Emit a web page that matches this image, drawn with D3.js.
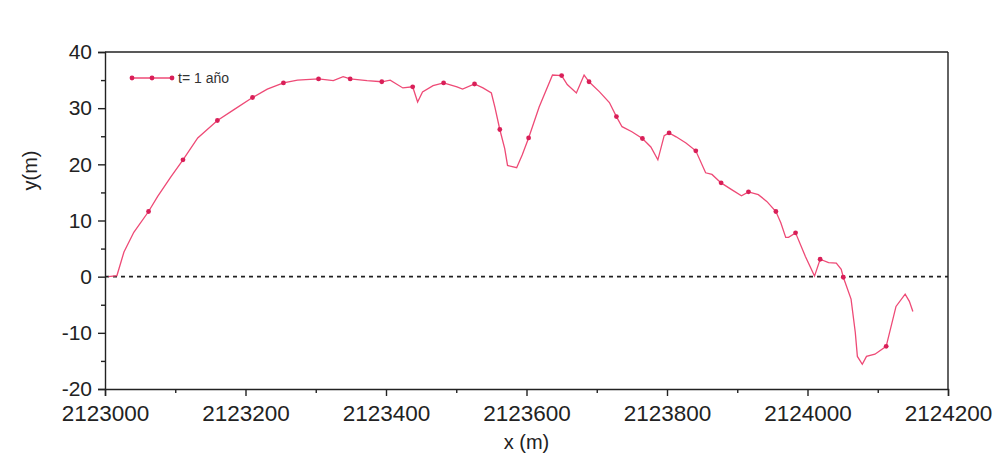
<!DOCTYPE html>
<html>
<head>
<meta charset="utf-8">
<script src="https://cdn.jsdelivr.net/npm/d3@7"></script>
<style>
  body { margin: 0; background: #fff; }
  text { font-family: "Liberation Sans", Arial, sans-serif; }
</style>
</head>
<body>
<div id="chart"></div>
<script>
// profile values
var xs = [2123005, 2123017, 2123027, 2123041, 2123062, 2123075, 2123094, 2123111, 2123132, 2123160,
          2123183, 2123210, 2123231, 2123254, 2123274, 2123304, 2123325, 2123339, 2123349, 2123373,
          2123394, 2123406, 2123424, 2123438, 2123445, 2123452, 2123467, 2123482, 2123501, 2123509,
          2123526, 2123538, 2123550, 2123555, 2123562, 2123569, 2123573, 2123586, 2123594, 2123603,
          2123618, 2123637, 2123650, 2123658, 2123671, 2123682, 2123689, 2123704, 2123718, 2123728,
          2123736, 2123750, 2123765, 2123777, 2123787, 2123796, 2123803, 2123813, 2123827, 2123841,
          2123855, 2123864, 2123877, 2123892, 2123906, 2123916, 2123930, 2123942, 2123955, 2123962,
          2123969, 2123973, 2123983, 2123997, 2124010, 2124018, 2124030, 2124041, 2124048, 2124051,
          2124062, 2124068, 2124071, 2124078, 2124084, 2124096, 2124112, 2124126, 2124139, 2124145,
          2124150];
var ys = [0, 0.2, 4.4, 7.9, 11.6, 14.3, 17.8, 20.8, 24.7, 27.8,
          29.7, 31.9, 33.4, 34.5, 35.0, 35.2, 34.9, 35.6, 35.2, 34.9,
          34.7, 35.0, 33.6, 33.8, 31.1, 32.9, 34.0, 34.5, 33.8, 33.4,
          34.3, 33.6, 32.7, 30.2, 26.2, 22.8, 19.8, 19.4, 21.7, 24.7,
          30.2, 35.9, 35.8, 34.2, 32.7, 35.9, 34.7, 32.9, 31.0, 28.5,
          26.7, 25.8, 24.6, 23.1, 20.8, 25.1, 25.6, 24.9, 23.8, 22.4,
          18.5, 18.2, 16.7, 15.5, 14.4, 15.1, 14.6, 13.4, 11.6, 9.6,
          7.0, 7.0, 7.8, 3.6, 0.1, 3.1, 2.5, 2.4, 1.3, -0.1,
          -4.0, -9.9, -14.2, -15.6, -14.2, -13.8, -12.4, -5.3, -3.1, -4.4,
          -6.2];
// 1 = point drawn with a marker
var marked = [0, 0, 0, 0, 1, 0, 0, 1, 0, 1,
              0, 1, 0, 1, 0, 1, 0, 0, 1, 0,
              1, 0, 0, 1, 0, 0, 0, 1, 0, 0,
              1, 0, 0, 0, 1, 0, 0, 0, 0, 1,
              0, 0, 1, 0, 0, 0, 1, 0, 0, 1,
              0, 0, 1, 0, 0, 0, 1, 0, 0, 1,
              0, 0, 1, 0, 0, 1, 0, 0, 1, 0,
              0, 0, 1, 0, 0, 1, 0, 0, 0, 1,
              0, 0, 0, 0, 0, 0, 1, 0, 0, 0,
              0];
var xTicks = [2123000, 2123200, 2123400, 2123600, 2123800, 2124000, 2124200];
var yTicks = [-20, -10, 0, 10, 20, 30, 40];
var seriesName = "t= 1 año";

var svgWidth = 1000;
var svgHeight = 462;
var margin = { top: 52, right: 52, bottom: 73, left: 105 };
var width = svgWidth - margin.left - margin.right;
var height = svgHeight - margin.top - margin.bottom;

var lineColor = "#ee4a76";
var markColor = "#d91f58";

var svg = d3.select("#chart")
    .append("svg")
    .attr("width", svgWidth)
    .attr("height", svgHeight);

var g = svg.append("g")
    .attr("transform", `translate(${margin.left}, ${margin.top})`);

var data = xs.map((x, i) => ({ x: x, y: ys[i], m: marked[i] }));

var xScale = d3.scaleLinear().domain([2123000, 2124200]).range([0, width]);
var yScale = d3.scaleLinear().domain([-20, 40]).range([height, 0]);

// minor ticks first, majors on top
g.append("g")
    .attr("transform", `translate(0, ${height})`)
    .call(d3.axisBottom(xScale).tickValues(d3.range(2123100, 2124200, 200)).tickSize(4).tickFormat(""))
    .call(a => a.select(".domain").remove());
g.append("g")
    .call(d3.axisLeft(yScale).tickValues(d3.range(-15, 40, 10)).tickSize(4).tickFormat(""))
    .call(a => a.select(".domain").remove());

var xAxis = g.append("g")
    .attr("transform", `translate(0, ${height})`)
    .call(d3.axisBottom(xScale).tickValues(xTicks).tickSize(7).tickPadding(9).tickFormat(d3.format("d")));
xAxis.selectAll("text").attr("font-size", 22.5).attr("fill", "#222");

var yAxis = g.append("g")
    .call(d3.axisLeft(yScale).tickValues(yTicks).tickSize(7).tickPadding(6).tickFormat(d => d < 0 ? "-" + Math.abs(d) : d));
yAxis.selectAll("text").attr("font-size", 21).attr("fill", "#222");

g.selectAll(".domain, .tick line").attr("stroke", "#222").attr("stroke-width", 1.4);

// frame top and right
g.append("line").attr("x1", 0).attr("x2", width).attr("y1", 0).attr("y2", 0)
    .attr("stroke", "#222").attr("stroke-width", 1.4);
g.append("line").attr("x1", width).attr("x2", width).attr("y1", 0).attr("y2", height)
    .attr("stroke", "#222").attr("stroke-width", 1.4);

// zero reference
g.append("line")
    .attr("x1", 0).attr("x2", width)
    .attr("y1", yScale(0)).attr("y2", yScale(0))
    .attr("stroke", "#222")
    .attr("stroke-width", 1.6)
    .attr("stroke-dasharray", "4,4");

var line = d3.line().x(d => xScale(d.x)).y(d => yScale(d.y));

g.append("path")
    .datum(data)
    .attr("fill", "none")
    .attr("stroke", lineColor)
    .attr("stroke-width", 1.3)
    .attr("d", line);

g.selectAll(".mark")
    .data(data.filter(d => d.m))
    .enter()
    .append("circle")
    .attr("class", "mark")
    .attr("cx", d => xScale(d.x))
    .attr("cy", d => yScale(d.y))
    .attr("r", 2.4)
    .attr("fill", markColor);

// legend
var legend = g.append("g").attr("transform", "translate(27, 26)");
legend.append("line").attr("x1", 0).attr("x2", 40).attr("y1", 0).attr("y2", 0)
    .attr("stroke", lineColor).attr("stroke-width", 1.3);
legend.selectAll("circle")
    .data([0, 20, 40])
    .enter()
    .append("circle")
    .attr("cx", d => d)
    .attr("cy", 0)
    .attr("r", 2.4)
    .attr("fill", markColor);
legend.append("text")
    .attr("x", 46)
    .attr("y", 5)
    .attr("font-size", 14)
    .attr("fill", "#333")
    .text(seriesName);

// axis titles
g.append("text")
    .attr("transform", "rotate(-90)")
    .attr("x", -height / 2 + 50)
    .attr("y", -margin.left + 37)
    .attr("text-anchor", "middle")
    .attr("font-size", 20)
    .attr("fill", "#222")
    .text("y(m)");

g.append("text")
    .attr("x", width / 2)
    .attr("y", height + 60)
    .attr("text-anchor", "middle")
    .attr("font-size", 20)
    .attr("fill", "#222")
    .text("x (m)");
</script>
</body>
</html>
